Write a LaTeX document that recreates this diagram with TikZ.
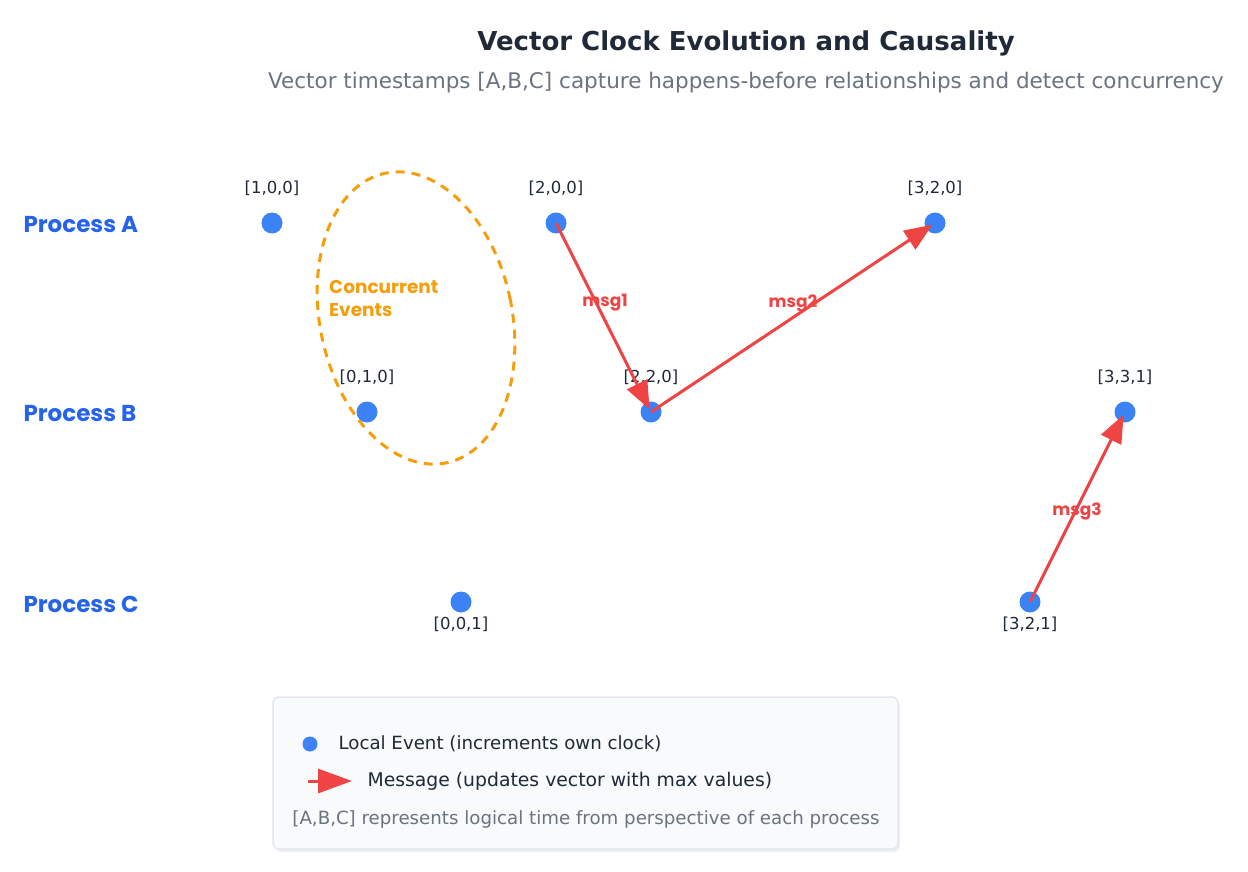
\documentclass[tikz,border=0pt]{standalone}
\usepackage{fontspec}
\setmainfont{DejaVu Sans}
\newfontfamily\heavyfont{Poppins}
\usetikzlibrary{positioning,calc,arrows.meta,shadows}
\definecolor{ink}{HTML}{1F2937}
\definecolor{subgray}{HTML}{6B7280}
\definecolor{evblue}{HTML}{3B82F6}
\definecolor{procblue}{HTML}{2563EB}
\definecolor{msgred}{HTML}{EF4444}
\definecolor{concorange}{HTML}{F59E0B}
\definecolor{legfill}{HTML}{F8FAFC}
\definecolor{legline}{HTML}{E2E8F0}

\begin{document}
\begin{tikzpicture}[x=1pt,y=-1pt,
    event/.style={circle,fill=evblue,minimum size=21pt,inner sep=0pt},
    stamp/.style={font=\fontsize{16.5}{18}\selectfont,text=ink,inner sep=1pt},
    proc/.style={font=\heavyfont\bfseries\fontsize{23}{26}\selectfont,text=procblue,anchor=west},
    msg/.style={draw=msgred,line width=3pt,-{Triangle[length=28pt,width=22pt]},shorten >=3pt},
    msglabel/.style={font=\heavyfont\bfseries\fontsize{17}{19}\selectfont,text=msgred}]
    \useasboundingbox (0,0) rectangle (1248,872);
    % title
    \node[font=\bfseries\fontsize{26}{30}\selectfont,text=ink] (title) at (746,43) {Vector Clock Evolution and Causality};
    \node[font=\fontsize{21.5}{24}\selectfont,text=subgray] (subtitle) at (746,83) {Vector timestamps [A,B,C] capture happens-before relationships and detect concurrency};
    % processes
    \node[proc] (pa) at (20,225) {Process A};
    \node[proc] (pb) at (20,414) {Process B};
    \node[proc] (pc) at (20,604) {Process C};
    % concurrency region
    \draw[concorange,line width=3pt,dash pattern=on 9pt off 7pt,rotate around={12:(416,318)}] (416,318) ellipse (96 and 148);
    \node[font=\heavyfont\bfseries\fontsize{18.5}{23}\selectfont,text=concorange,align=left,anchor=north west,inner sep=0pt] (conc) at (329,280) {Concurrent\\Events};
    % events
    \node[event] (a1) at (272,223) {};
    \node[event] (a2) at (556,223) {};
    \node[event] (a3) at (935,223) {};
    \node[event] (b1) at (367,412) {};
    \node[event] (b2) at (651,412) {};
    \node[event] (b3) at (1125,412) {};
    \node[event] (c1) at (461,602) {};
    \node[event] (c2) at (1030,602) {};
    \node[stamp,above=15pt of a1] {[1,0,0]};
    \node[stamp,above=15pt of a2] {[2,0,0]};
    \node[stamp,above=15pt of a3] {[3,2,0]};
    \node[stamp,above=15pt of b1] {[0,1,0]};
    \node[stamp,above=15pt of b2] {[2,2,0]};
    \node[stamp,above=15pt of b3] {[3,3,1]};
    \node[stamp,below=3pt of c1] {[0,0,1]};
    \node[stamp,below=3pt of c2] {[3,2,1]};
    % messages
    \draw[msg] (a2.center) -- (b2.center);
    \draw[msg] (b2.center) -- (a3.center);
    \draw[msg] (c2.center) -- (b3.center);
    \node[msglabel] at (605,303) {msg1};
    \node[msglabel] at (793,303) {msg2};
    \node[msglabel] at (1077,511) {msg3};
    % legend
    \node[draw=legline,line width=1.5pt,fill=legfill,rounded corners=6pt,minimum width=625pt,minimum height=152pt,
          drop shadow={opacity=0.12,shadow xshift=2pt,shadow yshift=-3pt}] (legend) at (585.5,773) {};
    \node[circle,fill=evblue,minimum size=15pt,inner sep=0pt] (ldot) at (310,744) {};
    \node[anchor=west,font=\fontsize{18.2}{20}\selectfont,text=ink] (ltxt) at (335,744) {Local Event (increments own clock)};
    \coordinate (lfrom) at (308,781);
    \coordinate (lto) at (352,781);
    \draw[msgred,line width=3pt,-{Triangle[length=34pt,width=24pt]}] (lfrom) -- (lto);
    \node[anchor=west,font=\fontsize{18.8}{20}\selectfont,text=ink] (mtxt) at (364,781) {Message (updates vector with max values)};
    \node[font=\fontsize{18.2}{19}\selectfont,text=subgray] (foot) at (586,819) {[A,B,C] represents logical time from perspective of each process};
\end{tikzpicture}
\end{document}
